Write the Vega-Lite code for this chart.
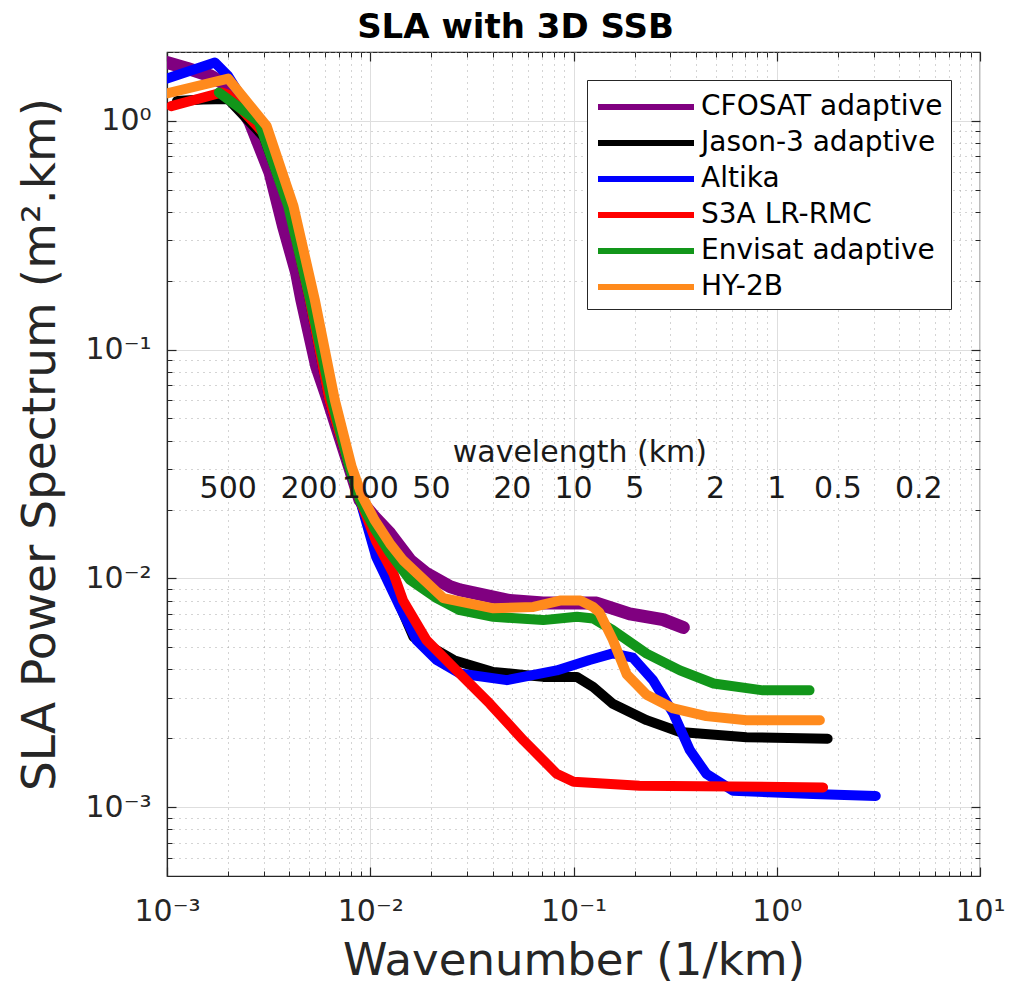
{
  "$schema": "https://vega.github.io/schema/vega-lite/v6.json",
  "width": 813,
  "height": 824,
  "autosize": {"type": "none"},
  "padding": {"left": 167, "top": 52, "right": 39, "bottom": 115},
  "config": {
    "view": {"stroke": "#262626", "strokeWidth": 1.2},
    "font": "DejaVu Sans",
    "axis": {"labelFont": "DejaVu Sans", "titleFont": "DejaVu Sans", "domainColor": "#262626", "tickColor": "#262626", "labelColor": "#262626", "titleColor": "#262626"}
  },
  "title": {"text": "SLA with 3D SSB", "fontSize": 34, "fontWeight": "bold", "font": "DejaVu Sans", "color": "black", "offset": 6, "dx": -58, "anchor": "middle"},
  "datasets": {
    "spec": [
      {"series": "CFOSAT adaptive", "k": 0.001, "v": 1.80},
      {"series": "CFOSAT adaptive", "k": 0.00125, "v": 1.70},
      {"series": "CFOSAT adaptive", "k": 0.00163, "v": 1.575},
      {"series": "CFOSAT adaptive", "k": 0.002, "v": 1.42},
      {"series": "CFOSAT adaptive", "k": 0.00256, "v": 0.99},
      {"series": "CFOSAT adaptive", "k": 0.00321, "v": 0.596},
      {"series": "CFOSAT adaptive", "k": 0.00374, "v": 0.347},
      {"series": "CFOSAT adaptive", "k": 0.00434, "v": 0.217},
      {"series": "CFOSAT adaptive", "k": 0.0046, "v": 0.166},
      {"series": "CFOSAT adaptive", "k": 0.00545, "v": 0.0845},
      {"series": "CFOSAT adaptive", "k": 0.0062, "v": 0.0604},
      {"series": "CFOSAT adaptive", "k": 0.0079, "v": 0.0308},
      {"series": "CFOSAT adaptive", "k": 0.0089, "v": 0.022},
      {"series": "CFOSAT adaptive", "k": 0.0105, "v": 0.0185},
      {"series": "CFOSAT adaptive", "k": 0.0125, "v": 0.0157},
      {"series": "CFOSAT adaptive", "k": 0.0157, "v": 0.012},
      {"series": "CFOSAT adaptive", "k": 0.0189, "v": 0.0105},
      {"series": "CFOSAT adaptive", "k": 0.0247, "v": 0.0092},
      {"series": "CFOSAT adaptive", "k": 0.0276, "v": 0.0089},
      {"series": "CFOSAT adaptive", "k": 0.0486, "v": 0.0080},
      {"series": "CFOSAT adaptive", "k": 0.0709, "v": 0.0078},
      {"series": "CFOSAT adaptive", "k": 0.13, "v": 0.0078},
      {"series": "CFOSAT adaptive", "k": 0.189, "v": 0.0070},
      {"series": "CFOSAT adaptive", "k": 0.276, "v": 0.0066},
      {"series": "CFOSAT adaptive", "k": 0.347, "v": 0.0061},

      {"series": "Jason-3 adaptive", "k": 0.00112, "v": 1.22},
      {"series": "Jason-3 adaptive", "k": 0.0015, "v": 1.24},
      {"series": "Jason-3 adaptive", "k": 0.002, "v": 1.245},
      {"series": "Jason-3 adaptive", "k": 0.00228, "v": 1.1},
      {"series": "Jason-3 adaptive", "k": 0.003, "v": 0.85},
      {"series": "Jason-3 adaptive", "k": 0.004, "v": 0.42},
      {"series": "Jason-3 adaptive", "k": 0.005, "v": 0.17},
      {"series": "Jason-3 adaptive", "k": 0.0063, "v": 0.06},
      {"series": "Jason-3 adaptive", "k": 0.0079, "v": 0.0308},
      {"series": "Jason-3 adaptive", "k": 0.0089, "v": 0.022},
      {"series": "Jason-3 adaptive", "k": 0.0107, "v": 0.0135},
      {"series": "Jason-3 adaptive", "k": 0.0135, "v": 0.0082},
      {"series": "Jason-3 adaptive", "k": 0.0163, "v": 0.00555},
      {"series": "Jason-3 adaptive", "k": 0.0258, "v": 0.00439},
      {"series": "Jason-3 adaptive", "k": 0.0403, "v": 0.0039},
      {"series": "Jason-3 adaptive", "k": 0.0709, "v": 0.00371},
      {"series": "Jason-3 adaptive", "k": 0.104, "v": 0.00371},
      {"series": "Jason-3 adaptive", "k": 0.125, "v": 0.00335},
      {"series": "Jason-3 adaptive", "k": 0.156, "v": 0.00283},
      {"series": "Jason-3 adaptive", "k": 0.229, "v": 0.0024},
      {"series": "Jason-3 adaptive", "k": 0.334, "v": 0.00213},
      {"series": "Jason-3 adaptive", "k": 0.71, "v": 0.00202},
      {"series": "Jason-3 adaptive", "k": 1.78, "v": 0.00199},

      {"series": "Altika", "k": 0.001, "v": 1.53},
      {"series": "Altika", "k": 0.00172, "v": 1.80},
      {"series": "Altika", "k": 0.002, "v": 1.57},
      {"series": "Altika", "k": 0.003, "v": 0.88},
      {"series": "Altika", "k": 0.004, "v": 0.43},
      {"series": "Altika", "k": 0.005, "v": 0.17},
      {"series": "Altika", "k": 0.0063, "v": 0.06},
      {"series": "Altika", "k": 0.0079, "v": 0.0308},
      {"series": "Altika", "k": 0.0089, "v": 0.022},
      {"series": "Altika", "k": 0.0107, "v": 0.0124},
      {"series": "Altika", "k": 0.014, "v": 0.0075},
      {"series": "Altika", "k": 0.0169, "v": 0.00537},
      {"series": "Altika", "k": 0.0212, "v": 0.0044},
      {"series": "Altika", "k": 0.0276, "v": 0.00384},
      {"series": "Altika", "k": 0.047, "v": 0.00359},
      {"series": "Altika", "k": 0.0826, "v": 0.00396},
      {"series": "Altika", "k": 0.12, "v": 0.0044},
      {"series": "Altika", "k": 0.156, "v": 0.0047},
      {"series": "Altika", "k": 0.196, "v": 0.0045},
      {"series": "Altika", "k": 0.246, "v": 0.00359},
      {"series": "Altika", "k": 0.31, "v": 0.00257},
      {"series": "Altika", "k": 0.373, "v": 0.00178},
      {"series": "Altika", "k": 0.45, "v": 0.0014},
      {"series": "Altika", "k": 0.61, "v": 0.00118},
      {"series": "Altika", "k": 1.51, "v": 0.00114},
      {"series": "Altika", "k": 3.07, "v": 0.00112},

      {"series": "S3A LR-RMC", "k": 0.00105, "v": 1.16},
      {"series": "S3A LR-RMC", "k": 0.00186, "v": 1.33},
      {"series": "S3A LR-RMC", "k": 0.002, "v": 1.30},
      {"series": "S3A LR-RMC", "k": 0.003, "v": 0.88},
      {"series": "S3A LR-RMC", "k": 0.004, "v": 0.42},
      {"series": "S3A LR-RMC", "k": 0.005, "v": 0.17},
      {"series": "S3A LR-RMC", "k": 0.0063, "v": 0.06},
      {"series": "S3A LR-RMC", "k": 0.0079, "v": 0.031},
      {"series": "S3A LR-RMC", "k": 0.0089, "v": 0.022},
      {"series": "S3A LR-RMC", "k": 0.0107, "v": 0.0145},
      {"series": "S3A LR-RMC", "k": 0.013, "v": 0.0105},
      {"series": "S3A LR-RMC", "k": 0.0145, "v": 0.008},
      {"series": "S3A LR-RMC", "k": 0.0189, "v": 0.00537},
      {"series": "S3A LR-RMC", "k": 0.0266, "v": 0.00396},
      {"series": "S3A LR-RMC", "k": 0.0388, "v": 0.00283},
      {"series": "S3A LR-RMC", "k": 0.0567, "v": 0.00196},
      {"series": "S3A LR-RMC", "k": 0.0826, "v": 0.0014},
      {"series": "S3A LR-RMC", "k": 0.1, "v": 0.00129},
      {"series": "S3A LR-RMC", "k": 0.211, "v": 0.00124},
      {"series": "S3A LR-RMC", "k": 1.69, "v": 0.00122},

      {"series": "Envisat adaptive", "k": 0.0018, "v": 1.33},
      {"series": "Envisat adaptive", "k": 0.00283, "v": 0.99},
      {"series": "Envisat adaptive", "k": 0.00395, "v": 0.424},
      {"series": "Envisat adaptive", "k": 0.00506, "v": 0.166},
      {"series": "Envisat adaptive", "k": 0.00645, "v": 0.0604},
      {"series": "Envisat adaptive", "k": 0.0079, "v": 0.0308},
      {"series": "Envisat adaptive", "k": 0.0089, "v": 0.022},
      {"series": "Envisat adaptive", "k": 0.0105, "v": 0.0165},
      {"series": "Envisat adaptive", "k": 0.0125, "v": 0.0129},
      {"series": "Envisat adaptive", "k": 0.0157, "v": 0.00984},
      {"series": "Envisat adaptive", "k": 0.0212, "v": 0.0082},
      {"series": "Envisat adaptive", "k": 0.0276, "v": 0.00726},
      {"series": "Envisat adaptive", "k": 0.0403, "v": 0.00679},
      {"series": "Envisat adaptive", "k": 0.0709, "v": 0.00657},
      {"series": "Envisat adaptive", "k": 0.104, "v": 0.0068},
      {"series": "Envisat adaptive", "k": 0.125, "v": 0.00668},
      {"series": "Envisat adaptive", "k": 0.156, "v": 0.00594},
      {"series": "Envisat adaptive", "k": 0.229, "v": 0.00469},
      {"series": "Envisat adaptive", "k": 0.334, "v": 0.00396},
      {"series": "Envisat adaptive", "k": 0.489, "v": 0.00347},
      {"series": "Envisat adaptive", "k": 0.855, "v": 0.00324},
      {"series": "Envisat adaptive", "k": 1.45, "v": 0.00324},

      {"series": "HY-2B", "k": 0.001, "v": 1.32},
      {"series": "HY-2B", "k": 0.002, "v": 1.53},
      {"series": "HY-2B", "k": 0.00309, "v": 0.95},
      {"series": "HY-2B", "k": 0.00419, "v": 0.424},
      {"series": "HY-2B", "k": 0.00533, "v": 0.166},
      {"series": "HY-2B", "k": 0.00669, "v": 0.0604},
      {"series": "HY-2B", "k": 0.0081, "v": 0.0308},
      {"series": "HY-2B", "k": 0.0091, "v": 0.023},
      {"series": "HY-2B", "k": 0.0105, "v": 0.018},
      {"series": "HY-2B", "k": 0.0125, "v": 0.0142},
      {"series": "HY-2B", "k": 0.0145, "v": 0.012},
      {"series": "HY-2B", "k": 0.0229, "v": 0.0082},
      {"series": "HY-2B", "k": 0.0403, "v": 0.0074},
      {"series": "HY-2B", "k": 0.0635, "v": 0.0075},
      {"series": "HY-2B", "k": 0.0857, "v": 0.008},
      {"series": "HY-2B", "k": 0.108, "v": 0.008},
      {"series": "HY-2B", "k": 0.125, "v": 0.0075},
      {"series": "HY-2B", "k": 0.134, "v": 0.0071},
      {"series": "HY-2B", "k": 0.156, "v": 0.0054},
      {"series": "HY-2B", "k": 0.183, "v": 0.0038},
      {"series": "HY-2B", "k": 0.229, "v": 0.0031},
      {"series": "HY-2B", "k": 0.31, "v": 0.0027},
      {"series": "HY-2B", "k": 0.45, "v": 0.0025},
      {"series": "HY-2B", "k": 0.71, "v": 0.0024},
      {"series": "HY-2B", "k": 1.63, "v": 0.0024}
    ],
    "wl": [
      {"k": 0.002, "v": 0.0225, "label": "500"},
      {"k": 0.005, "v": 0.0225, "label": "200"},
      {"k": 0.01, "v": 0.0225, "label": "100"},
      {"k": 0.02, "v": 0.0225, "label": "50"},
      {"k": 0.05, "v": 0.0225, "label": "20"},
      {"k": 0.1, "v": 0.0225, "label": "10"},
      {"k": 0.2, "v": 0.0225, "label": "5"},
      {"k": 0.5, "v": 0.0225, "label": "2"},
      {"k": 1, "v": 0.0225, "label": "1"},
      {"k": 2, "v": 0.0225, "label": "0.5"},
      {"k": 5, "v": 0.0225, "label": "0.2"},
      {"k": 0.1075, "v": 0.0322, "label": "wavelength (km)"}
    ]
  },
  "data": {"name": "spec"},
  "resolve": {"axis": {"x": "independent", "y": "independent"}},
  "layer": [
    {
      "mark": {"type": "point", "opacity": 0},
      "encoding": {
        "x": {"field": "k", "type": "quantitative", "scale": {"type": "log", "domain": [0.001, 10], "nice": false},
          "axis": {"orient": "bottom", "values": [0.002,0.003,0.004,0.005,0.006,0.007,0.008,0.009,0.02,0.03,0.04,0.05,0.06,0.07,0.08,0.09,0.2,0.3,0.4,0.5,0.6,0.7,0.8,0.9,2,3,4,5,6,7,8,9],
            "labels": false, "title": null, "domain": false, "grid": true, "gridColor": "#a8a8a8", "gridDash": [1, 5], "gridWidth": 1, "ticks": true, "tickSize": -5, "tickWidth": 1}},
        "y": {"field": "v", "type": "quantitative", "scale": {"type": "log", "domain": [0.0005, 2], "nice": false},
          "axis": {"orient": "left", "values": [0.0006,0.0007,0.0008,0.0009,0.002,0.003,0.004,0.005,0.006,0.007,0.008,0.009,0.02,0.03,0.04,0.05,0.06,0.07,0.08,0.09,0.2,0.3,0.4,0.5,0.6,0.7,0.8,0.9,2],
            "labels": false, "title": null, "domain": false, "grid": true, "gridColor": "#a8a8a8", "gridDash": [1, 5], "gridWidth": 1, "ticks": true, "tickSize": -5, "tickWidth": 1}}
      }
    },
    {
      "mark": {"type": "point", "opacity": 0},
      "encoding": {
        "x": {"field": "k", "type": "quantitative", "scale": {"type": "log", "domain": [0.001, 10], "nice": false},
          "axis": {"orient": "top", "values": [0.002,0.003,0.004,0.005,0.006,0.007,0.008,0.009,0.02,0.03,0.04,0.05,0.06,0.07,0.08,0.09,0.2,0.3,0.4,0.5,0.6,0.7,0.8,0.9,2,3,4,5,6,7,8,9],
            "labels": false, "title": null, "domain": false, "grid": false, "ticks": true, "tickSize": -5, "tickWidth": 1}},
        "y": {"field": "v", "type": "quantitative", "scale": {"type": "log", "domain": [0.0005, 2], "nice": false},
          "axis": {"orient": "right", "values": [0.0006,0.0007,0.0008,0.0009,0.002,0.003,0.004,0.005,0.006,0.007,0.008,0.009,0.02,0.03,0.04,0.05,0.06,0.07,0.08,0.09,0.2,0.3,0.4,0.5,0.6,0.7,0.8,0.9,2],
            "labels": false, "title": null, "domain": false, "grid": false, "ticks": true, "tickSize": -5, "tickWidth": 1}}
      }
    },
    {
      "mark": {"type": "point", "opacity": 0},
      "encoding": {
        "x": {"field": "k", "type": "quantitative", "scale": {"type": "log", "domain": [0.001, 10], "nice": false},
          "axis": {"orient": "top", "values": [0.001, 0.01, 0.1, 1, 10], "labels": false, "title": null, "domain": false, "grid": false, "ticks": true, "tickSize": -9, "tickWidth": 1.2}},
        "y": {"field": "v", "type": "quantitative", "scale": {"type": "log", "domain": [0.0005, 2], "nice": false},
          "axis": {"orient": "right", "values": [0.001, 0.01, 0.1, 1], "labels": false, "title": null, "domain": false, "grid": false, "ticks": true, "tickSize": -9, "tickWidth": 1.2}}
      }
    },
    {
      "mark": {"type": "line", "strokeCap": "round", "strokeJoin": "round", "clip": true},
      "encoding": {
        "x": {"field": "k", "type": "quantitative", "scale": {"type": "log", "domain": [0.001, 10], "nice": false},
          "axis": {"orient": "bottom", "values": [0.001, 0.01, 0.1, 1, 10],
            "labelExpr": "datum.value < 0.005 ? '10⁻³' : datum.value < 0.05 ? '10⁻²' : datum.value < 0.5 ? '10⁻¹' : datum.value < 5 ? '10⁰' : '10¹'",
            "labelFontSize": 30, "labelPadding": 29, "labelFlush": false,
            "grid": true, "gridColor": "#dedede", "gridWidth": 1,
            "ticks": true, "tickSize": -9, "tickWidth": 1.2, "domainWidth": 1.2,
            "title": "Wavenumber (1/km)", "titleFontSize": 45, "titleFontWeight": "normal", "titlePadding": 12}},
        "y": {"field": "v", "type": "quantitative", "scale": {"type": "log", "domain": [0.0005, 2], "nice": false},
          "axis": {"orient": "left", "values": [0.001, 0.01, 0.1, 1],
            "labelExpr": "datum.value < 0.005 ? '10⁻³' : datum.value < 0.05 ? '10⁻²' : datum.value < 0.5 ? '10⁻¹' : '10⁰'",
            "labelFontSize": 30, "labelPadding": 25, "labelFlush": false,
            "grid": true, "gridColor": "#dedede", "gridWidth": 1,
            "ticks": true, "tickSize": -9, "tickWidth": 1.2, "domainWidth": 1.2,
            "title": "SLA Power Spectrum (m².km)", "titleFontSize": 47, "titleFontWeight": "normal", "titlePadding": 20, "titleY": 392}},
        "color": {"field": "series", "type": "nominal",
          "scale": {"domain": ["CFOSAT adaptive", "Jason-3 adaptive", "Altika", "S3A LR-RMC", "Envisat adaptive", "HY-2B"],
                    "range": ["#800080", "#000000", "#0000ff", "#ff0000", "#12961a", "#ff8a1c"]},
          "legend": {"orient": "none", "legendX": 420, "legendY": 28, "title": null,
            "symbolType": "M-1,0H5", "symbolSize": 1024, "symbolStrokeWidth": 6,
            "labelFontSize": 28, "labelFont": "DejaVu Sans", "labelColor": "#000000", "labelLimit": 400, "labelOffset": 68,
            "strokeColor": "#262626", "fillColor": "white", "padding": 8, "rowPadding": 3}},
        "strokeWidth": {"condition": {"test": "datum.series === 'CFOSAT adaptive'", "value": 13}, "value": 10}
      }
    },
    {
      "data": {"name": "wl"},
      "mark": {"type": "text", "fontSize": 30, "font": "DejaVu Sans", "color": "#1a1a1a", "baseline": "alphabetic", "align": "center"},
      "encoding": {
        "x": {"field": "k", "type": "quantitative", "scale": {"type": "log", "domain": [0.001, 10], "nice": false}, "axis": null},
        "y": {"field": "v", "type": "quantitative", "scale": {"type": "log", "domain": [0.0005, 2], "nice": false}, "axis": null},
        "text": {"field": "label"}
      }
    }
  ]
}
